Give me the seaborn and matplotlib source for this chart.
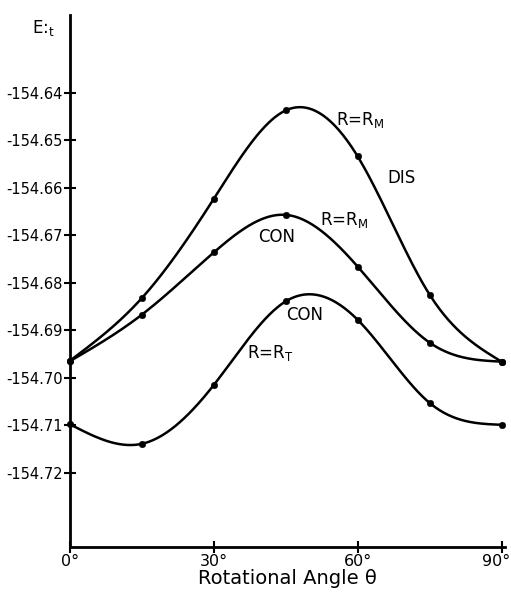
import numpy as np
import pandas as pd
import matplotlib
matplotlib.use('Agg')
import matplotlib.pyplot as plt
import matplotlib.transforms as mtransforms
import seaborn as sns

# data
angle = [0, 15, 30, 45, 60, 75, 90]
dis_rm = [-154.6964, -154.6832, -154.6623, -154.6437, -154.6534, -154.6825, -154.6966]
con_rm = [-154.6965, -154.6867, -154.6736, -154.6657, -154.6766, -154.6926, -154.6966]
con_rt = [-154.7098, -154.7139, -154.7015, -154.6839, -154.6878, -154.7053, -154.7099]
yticks = [-154.64, -154.65, -154.66, -154.67, -154.68, -154.69, -154.70, -154.71, -154.72]
ytick_labels = ['-154.64', '-154.65', '-154.66', '-154.67', '-154.68', '-154.69', '-154.70', '-154.71', '-154.72']
xticks = [0, 30, 60, 90]
xtick_labels = ['0°', '30°', '60°', '90°']


def natural_spline(x, y, n=300):
    # smooth curve through the measured points (natural cubic spline)
    x = np.asarray(x, float)
    y = np.asarray(y, float)
    k = len(x)
    h = np.diff(x)
    A = np.zeros((k, k))
    b = np.zeros(k)
    A[0, 0] = A[-1, -1] = 1
    for i in range(1, k - 1):
        A[i, i - 1] = h[i - 1]
        A[i, i] = 2 * (h[i - 1] + h[i])
        A[i, i + 1] = h[i]
        b[i] = 6 * ((y[i + 1] - y[i]) / h[i] - (y[i] - y[i - 1]) / h[i - 1])
    m = np.linalg.solve(A, b)
    xs = np.linspace(x[0], x[-1], n)
    idx = np.clip(np.searchsorted(x, xs) - 1, 0, k - 2)
    x0, x1 = x[idx], x[idx + 1]
    hh = x1 - x0
    t0, t1 = x1 - xs, xs - x0
    ys = (m[idx] * t0**3 / (6 * hh) + m[idx + 1] * t1**3 / (6 * hh)
          + (y[idx] / hh - m[idx] * hh / 6) * t0
          + (y[idx + 1] / hh - m[idx + 1] * hh / 6) * t1)
    return xs, ys


sns.set_style('white')
plt.rcParams['font.family'] = ['DejaVu Sans']
plt.rcParams['text.color'] = 'black'

fig = plt.figure(figsize=(5.11, 5.97), dpi=100)
ax = fig.add_axes([0.137, 0.084, 0.852, 0.891])

points = pd.DataFrame({'angle': angle * 3,
                       'energy': dis_rm + con_rm + con_rt,
                       'curve': ['dis'] * 7 + ['con_m'] * 7 + ['con_t'] * 7})

for name, vals in [('dis', dis_rm), ('con_m', con_rm), ('con_t', con_rt)]:
    xs, ys = natural_spline(angle, vals)
    sns.lineplot(x=xs, y=ys, color='black', lw=1.8, ax=ax)

sns.scatterplot(data=points, x='angle', y='energy', color='black', s=22,
                edgecolor='black', zorder=5, clip_on=False, legend=False, ax=ax)

ax.set_xlim(0, 90.8)
ax.set_ylim(-154.7356, -154.6236)
ax.set_xticks(xticks)
ax.set_xticklabels(xtick_labels, fontsize=11.5)
ax.set_yticks(yticks)
ax.set_yticklabels(ytick_labels, fontsize=10.5)
ax.tick_params(bottom=True, left=True, direction='inout', length=8, width=1.5,
               pad=1, colors='black', labelcolor='black')

# keep the 90° label inside the figure
last = ax.get_xticklabels()[-1]
last.set_transform(last.get_transform() + mtransforms.ScaledTranslation(-0.05, 0, fig.dpi_scale_trans))

for s in ['top', 'right']:
    ax.spines[s].set_visible(False)
for s in ['left', 'bottom']:
    ax.spines[s].set_linewidth(2)
    ax.spines[s].set_color('black')

# arrow on the energy axis
ax.plot(0, 1, marker='^', color='black', ms=7, transform=ax.get_yaxis_transform(), clip_on=False)

ax.set_xlabel('Rotational Angle θ', fontsize=14, labelpad=0, color='black')
ax.set_ylabel('')
ax.text(-0.062, 0.975, 'E:$_\\mathregular{t}$', transform=ax.transAxes, fontsize=12, ha='center', va='center')

kw = dict(fontsize=12, ha='center', va='center', color='black')
ax.text(60.5, -154.6457, 'R=R$_\\mathregular{M}$', **kw)
ax.text(69.2, -154.6579, 'DIS', **kw)
ax.text(57.1, -154.6667, 'R=R$_\\mathregular{M}$', **kw)
ax.text(43.0, -154.6703, 'CON', **kw)
ax.text(48.9, -154.6867, 'CON', **kw)
ax.text(41.7, -154.6947, 'R=R$_\\mathregular{T}$', **kw)

fig.savefig('out.png', dpi=100)
